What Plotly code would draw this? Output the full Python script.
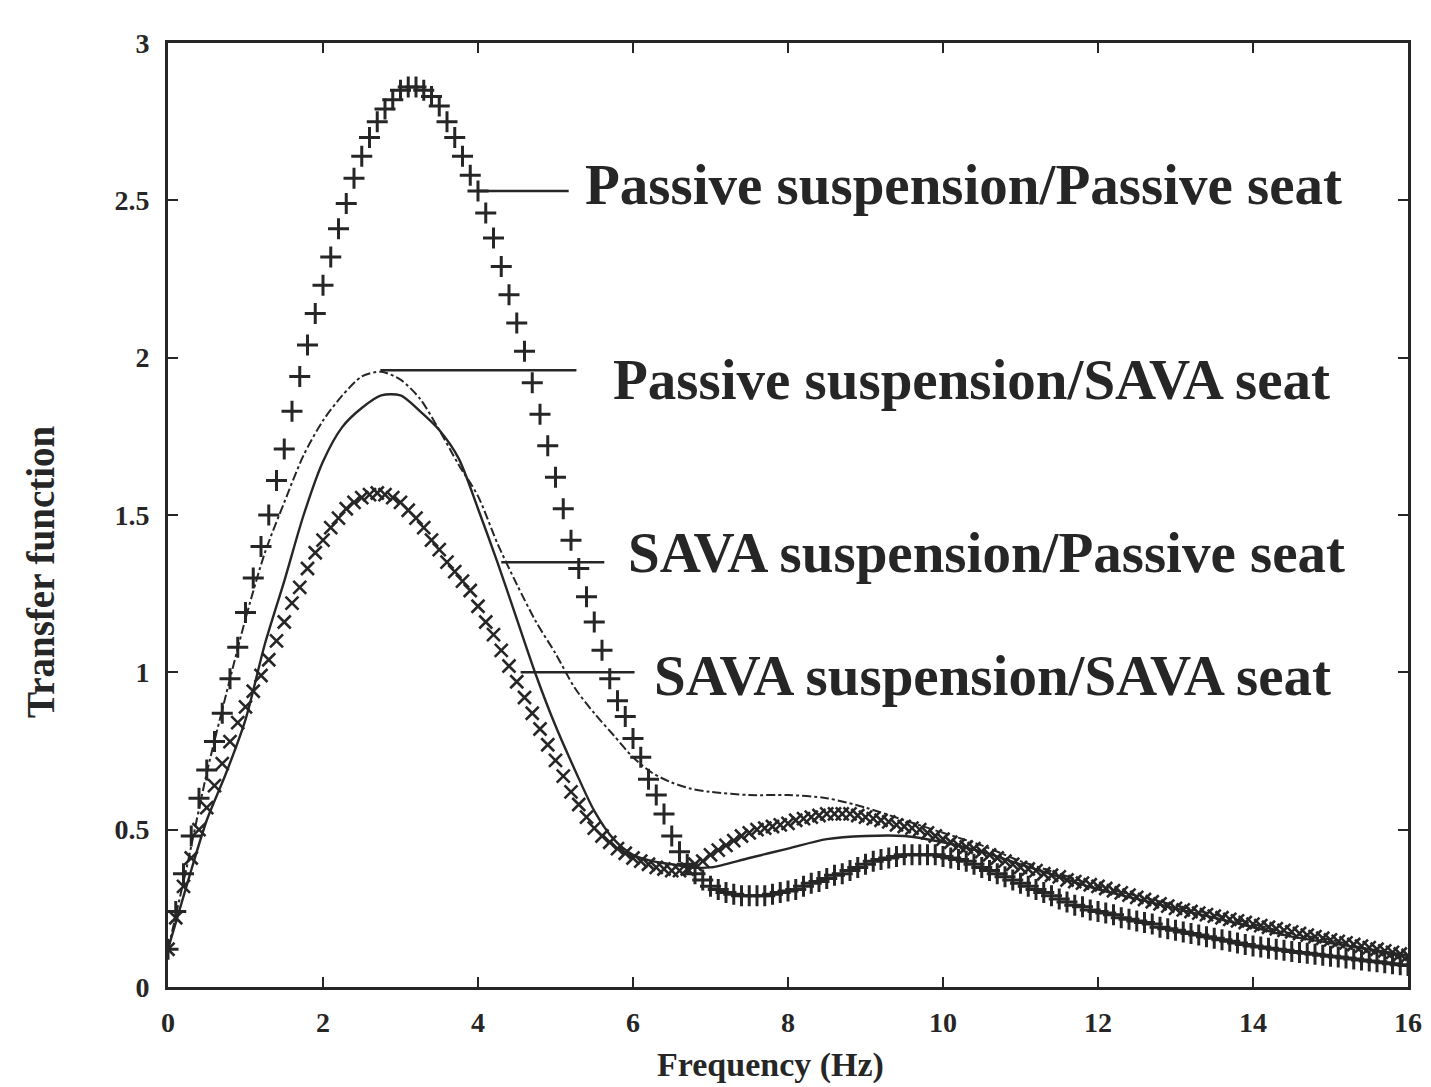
import plotly.graph_objects as go

# ---------------- data ----------------
# dense-marker series sampled every 0.1 Hz
freq_fine = [i / 10 for i in range(161)]

passive_passive = [
    0.12, 0.24, 0.36, 0.48, 0.60, 0.69, 0.78, 0.87, 0.98, 1.08,
    1.19, 1.30, 1.40, 1.50, 1.61, 1.71, 1.83, 1.94, 2.04, 2.14,
    2.23, 2.32, 2.41, 2.49, 2.57, 2.64, 2.70, 2.75, 2.79, 2.82,
    2.85, 2.86, 2.86, 2.85, 2.83, 2.80, 2.75, 2.70, 2.64, 2.58,
    2.53, 2.46, 2.38, 2.29, 2.20, 2.11, 2.02, 1.92, 1.82, 1.72,
    1.62, 1.52, 1.42, 1.33, 1.24, 1.16, 1.07, 0.98, 0.91, 0.86,
    0.79, 0.73, 0.66, 0.61, 0.55, 0.48, 0.43, 0.39, 0.36, 0.34,
    0.32, 0.31, 0.30, 0.295, 0.29, 0.29, 0.29, 0.29, 0.295, 0.30,
    0.305, 0.31, 0.32, 0.33, 0.335, 0.345, 0.355, 0.36, 0.37, 0.38,
    0.39, 0.40, 0.405, 0.41, 0.415, 0.42, 0.42, 0.42, 0.42, 0.42,
    0.415, 0.41, 0.405, 0.40, 0.39, 0.38, 0.37, 0.36, 0.35, 0.34,
    0.33, 0.32, 0.31, 0.30, 0.29, 0.28, 0.27, 0.26, 0.255, 0.245,
    0.24, 0.235, 0.23, 0.22, 0.215, 0.21, 0.205, 0.20, 0.19, 0.185,
    0.18, 0.175, 0.17, 0.165, 0.16, 0.155, 0.15, 0.145, 0.14, 0.135,
    0.13, 0.127, 0.123, 0.12, 0.117, 0.113, 0.11, 0.107, 0.104, 0.101,
    0.098, 0.095, 0.092, 0.089, 0.086, 0.083, 0.08, 0.077, 0.074, 0.071,
    0.068,
]

sava_sava = [
    0.12, 0.22, 0.32, 0.41, 0.50, 0.57, 0.64, 0.71, 0.78, 0.84,
    0.89, 0.94, 0.99, 1.04, 1.10, 1.16, 1.22, 1.27, 1.33, 1.38,
    1.42, 1.46, 1.49, 1.52, 1.54, 1.555, 1.565, 1.57, 1.565, 1.555,
    1.54, 1.515, 1.49, 1.46, 1.42, 1.39, 1.35, 1.32, 1.29, 1.26,
    1.21, 1.16, 1.12, 1.07, 1.02, 0.97, 0.92, 0.87, 0.82, 0.77,
    0.72, 0.67, 0.62, 0.58, 0.54, 0.505, 0.48, 0.46, 0.44, 0.425,
    0.41, 0.40, 0.39, 0.38, 0.375, 0.37, 0.37, 0.375, 0.39, 0.40,
    0.42, 0.435, 0.45, 0.465, 0.48, 0.49, 0.50, 0.505, 0.51, 0.515,
    0.52, 0.53, 0.535, 0.54, 0.545, 0.55, 0.55, 0.55, 0.55, 0.545,
    0.54, 0.535, 0.53, 0.525, 0.515, 0.51, 0.505, 0.50, 0.49, 0.48,
    0.47, 0.46, 0.45, 0.445, 0.44, 0.43, 0.42, 0.41, 0.40, 0.39,
    0.38, 0.375, 0.37, 0.36, 0.355, 0.35, 0.34, 0.335, 0.33, 0.325,
    0.32, 0.313, 0.306, 0.299, 0.292, 0.285, 0.278, 0.271, 0.264, 0.257,
    0.25, 0.245, 0.24, 0.235, 0.23, 0.225, 0.22, 0.215, 0.21, 0.205,
    0.20, 0.195, 0.19, 0.185, 0.18, 0.175, 0.17, 0.165, 0.16, 0.155,
    0.15, 0.145, 0.14, 0.135, 0.13, 0.125, 0.12, 0.115, 0.11, 0.105,
    0.10,
]

# line series
freq_line = [0, 0.25, 0.5, 0.75, 1.0, 1.25, 1.5, 1.75, 2.0, 2.25, 2.5, 2.75,
             3.0, 3.25, 3.5, 3.75, 4.0, 4.25, 4.5, 4.75, 5.0, 5.25, 5.5, 5.75,
             6.0, 6.25, 6.5, 6.75, 7.0, 7.5, 8.0, 8.5, 9.0, 9.5, 10.0, 10.5,
             11.0, 11.5, 12.0, 12.5, 13.0, 13.5, 14.0, 14.5, 15.0, 15.5, 16.0]

passive_sava = [0.12, 0.39, 0.68, 0.93, 1.17, 1.38, 1.54, 1.69, 1.80, 1.88, 1.94, 1.955,
                1.93, 1.87, 1.77, 1.66, 1.56, 1.41, 1.28, 1.16, 1.06, 0.95, 0.87, 0.80,
                0.73, 0.68, 0.65, 0.63, 0.62, 0.61, 0.61, 0.60, 0.57, 0.53, 0.49, 0.45,
                0.40, 0.36, 0.32, 0.29, 0.26, 0.23, 0.20, 0.17, 0.15, 0.12, 0.10]

sava_passive = [0.12, 0.33, 0.53, 0.68, 0.85, 1.09, 1.29, 1.50, 1.67, 1.78, 1.84, 1.88,
                1.88, 1.83, 1.77, 1.68, 1.52, 1.35, 1.17, 0.99, 0.83, 0.69, 0.56, 0.47,
                0.42, 0.40, 0.39, 0.38, 0.38, 0.41, 0.44, 0.47, 0.48, 0.48, 0.46, 0.43,
                0.39, 0.35, 0.31, 0.28, 0.25, 0.22, 0.19, 0.16, 0.14, 0.12, 0.10]

# label texts and their leader lines (data coordinates)
label_texts = ["Passive suspension/Passive seat", "Passive suspension/SAVA seat",
               "SAVA suspension/Passive seat", "SAVA suspension/SAVA seat"]
leader_x0 = [4.01, 2.74, 4.30, 4.55]
leader_x1 = [5.17, 5.27, 5.63, 6.02]
leader_y = [2.53, 1.96, 1.35, 1.00]
text_x = [5.36, 5.72, 5.91, 6.24]
text_y = [2.55, 1.93, 1.38, 0.99]

x_ticks = [0, 2, 4, 6, 8, 10, 12, 14, 16]
y_ticks = [0, 0.5, 1, 1.5, 2, 2.5, 3]

INK = "#262626"
SERIF = "Liberation Serif, Times New Roman, serif"

fig = go.Figure()

fig.add_trace(go.Scatter(
    x=freq_fine, y=passive_passive, mode="markers", name=label_texts[0],
    marker=dict(symbol="cross-thin", size=15, color=INK,
                line=dict(width=3, color=INK)),
))
fig.add_trace(go.Scatter(
    x=freq_fine, y=sava_sava, mode="markers", name=label_texts[3],
    marker=dict(symbol="x-thin", size=13, color=INK,
                line=dict(width=2.6, color=INK)),
))
fig.add_trace(go.Scatter(
    x=freq_line, y=passive_sava, mode="lines", name=label_texts[1],
    line=dict(color=INK, width=2, dash="dashdot", shape="spline", smoothing=0.8),
))
fig.add_trace(go.Scatter(
    x=freq_line, y=sava_passive, mode="lines", name=label_texts[2],
    line=dict(color=INK, width=2.4, shape="spline", smoothing=0.8),
))

for i, txt in enumerate(label_texts):
    fig.add_shape(type="line", xref="x", yref="y",
                  x0=leader_x0[i], x1=leader_x1[i], y0=leader_y[i], y1=leader_y[i],
                  line=dict(color=INK, width=2.5))
    fig.add_annotation(x=text_x[i], y=text_y[i], xref="x", yref="y",
                       text=txt, showarrow=False, xanchor="left", yanchor="middle",
                       font=dict(family=SERIF, size=57, color=INK, weight="bold"))

# axis titles
fig.add_annotation(x=0.486, y=-0.083, xref="paper", yref="paper",
                   text="Frequency (Hz)", showarrow=False,
                   xanchor="center", yanchor="middle",
                   font=dict(family=SERIF, size=34, color=INK, weight="bold"))
fig.add_annotation(x=-0.103, y=0.44, xref="paper", yref="paper",
                   text="Transfer function", showarrow=False, textangle=-90,
                   xanchor="center", yanchor="middle",
                   font=dict(family=SERIF, size=39, color=INK, weight="bold"))

axis_common = dict(
    showline=True, linecolor=INK, linewidth=3, mirror="ticks",
    ticks="inside", ticklen=10, tickwidth=2, tickcolor=INK,
    showgrid=False, zeroline=False, automargin=False,
    tickfont=dict(family=SERIF, size=28, color=INK, weight="bold"),
)

fig.update_layout(
    width=1431, height=1087,
    margin=dict(l=160, r=31, t=35, b=108),
    paper_bgcolor="white", plot_bgcolor="white",
    showlegend=False,
    xaxis=dict(range=[0, 16], tickvals=x_ticks, ticklabelstandoff=8, **axis_common),
    yaxis=dict(range=[0, 3], tickvals=y_ticks, ticklabelstandoff=10, **axis_common),
)

fig.write_html("out.html")
